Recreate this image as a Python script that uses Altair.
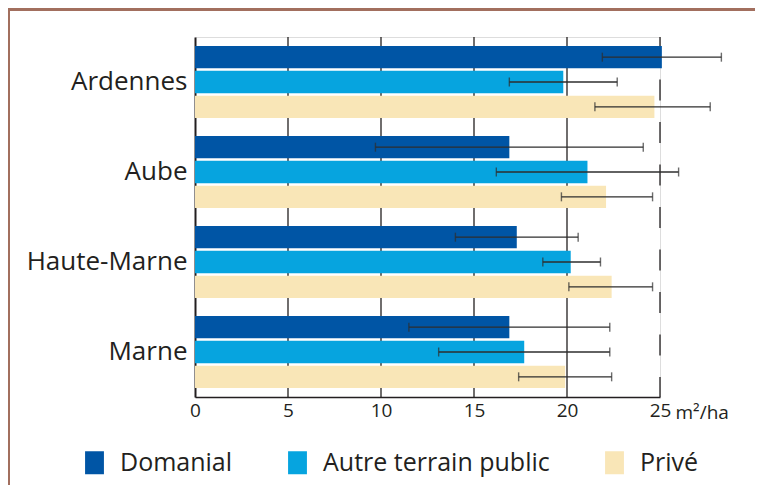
import altair as alt
import pandas as pd

departements = ["Ardennes", "Aube", "Haute-Marne", "Marne"]
types = ["Domanial", "Autre terrain public", "Privé"]
couleurs = ["#0055a5", "#06a4df", "#f9e6b7"]

valeurs = {
    "Domanial": [25.1, 16.9, 17.3, 16.9],
    "Autre terrain public": [19.8, 21.1, 20.2, 17.7],
    "Privé": [24.7, 22.1, 22.4, 19.9],
}
err_bas = {
    "Domanial": [21.9, 9.7, 14.0, 11.5],
    "Autre terrain public": [16.9, 16.2, 18.7, 13.1],
    "Privé": [21.5, 19.7, 20.1, 17.4],
}
err_haut = {
    "Domanial": [28.3, 24.1, 20.6, 22.3],
    "Autre terrain public": [22.7, 26.0, 21.8, 22.3],
    "Privé": [27.7, 24.6, 24.6, 22.4],
}
ticks_x = [0, 5, 10, 15, 20, 25]
grille_pleine = [5, 10, 15, 20]
grille_tiret = [25]

rows = []
for t in types:
    for i, d in enumerate(departements):
        rows.append({"dep": d, "type": t, "val": valeurs[t][i],
                     "lo": err_bas[t][i], "hi": err_haut[t][i]})
df = pd.DataFrame(rows)

FONT = "Open Sans"
INK = "#231f20"
W, H = 465, 360
PL, PT = 187, 29
TOTW, TOTH = 747, 477

xscale = alt.Scale(domain=[0, 25], nice=False, zero=True)
yscale = alt.Scale(domain=departements, paddingInner=0.2, paddingOuter=0.1)
yoff = alt.YOffset("type:N", sort=types, scale=alt.Scale(domain=types, paddingInner=0.1, paddingOuter=0))

grid1 = alt.Chart(pd.DataFrame({"g": grille_pleine})).mark_rule(
    color=INK, strokeWidth=1.3).encode(x=alt.X("g:Q", scale=xscale))
grid2 = alt.Chart(pd.DataFrame({"g": grille_tiret})).mark_rule(
    color=INK, strokeWidth=1.3, strokeDash=[21, 21.5]).encode(x=alt.X("g:Q", scale=xscale))

bars = alt.Chart(df).mark_bar().encode(
    x=alt.X("val:Q", scale=xscale,
            axis=alt.Axis(values=ticks_x, grid=False, ticks=False, domainColor=INK,
                          domainWidth=1.5, labelFont=FONT, labelFontSize=19,
                          labelColor=INK, labelPadding=4, title="m²/ha",
                          titleFont=FONT, titleFontSize=19, titleFontWeight="normal",
                          titleColor=INK, titleX=W + 15, titleY=21, titleAlign="left",
                          titleBaseline="alphabetic", labelFlush=False)),
    y=alt.Y("dep:N", scale=yscale, sort=departements,
            axis=alt.Axis(title=None, ticks=False, domainColor=INK, domainWidth=2,
                          labelFont=FONT, labelFontSize=26, labelColor=INK,
                          labelPadding=8, labelLimit=0)),
    yOffset=yoff,
    color=alt.Color("type:N", scale=alt.Scale(domain=types, range=couleurs),
                    legend=alt.Legend(title=None, orient="none", direction="horizontal",
                                      legendX=-113, legendY=413,
                                      symbolType="M-0.82,-1h1.64v2h-1.64z",
                                      symbolSize=529, symbolStrokeWidth=0,
                                      labelFont=FONT, labelFontSize=25, labelColor=INK,
                                      labelOffset=13, columnPadding=52, labelLimit=0)),
)

err = alt.Chart(df).mark_rule(color="#2e2e2e", strokeWidth=1.4).encode(
    x=alt.X("lo:Q", scale=xscale), x2="hi:Q",
    y=alt.Y("dep:N", scale=yscale, sort=departements), yOffset=yoff,
)
cap_lo = alt.Chart(df).mark_tick(color="#2e2e2e", thickness=1.4, size=9, orient="vertical").encode(
    x=alt.X("lo:Q", scale=xscale),
    y=alt.Y("dep:N", scale=yscale, sort=departements), yOffset=yoff,
)
cap_hi = alt.Chart(df).mark_tick(color="#2e2e2e", thickness=1.4, size=9, orient="vertical").encode(
    x=alt.X("hi:Q", scale=xscale),
    y=alt.Y("dep:N", scale=yscale, sort=departements), yOffset=yoff,
)

frame = pd.DataFrame({"k": [0]})
band_top = alt.Chart(frame).mark_rect(color="#a26f5e").encode(
    x=alt.value(-PL), x2=alt.value(TOTW - PL + 20), y=alt.value(-PT), y2=alt.value(-PT + 3))
band_left = alt.Chart(frame).mark_rect(color="#a26f5e").encode(
    x=alt.value(-PL), x2=alt.value(-PL + 2), y=alt.value(-PT), y2=alt.value(TOTH - PT))

chart = alt.layer(grid1, grid2, bars, err, cap_lo, cap_hi, band_top, band_left).properties(
    width=W, height=H,
    autosize=alt.AutoSizeParams(type="none"),
    padding={"left": PL, "top": PT, "right": TOTW - PL - W, "bottom": TOTH - PT - H},
).configure_view(stroke=None).configure(background="white")

chart.save("out.html", embed_options={"renderer": "svg", "actions": False})
